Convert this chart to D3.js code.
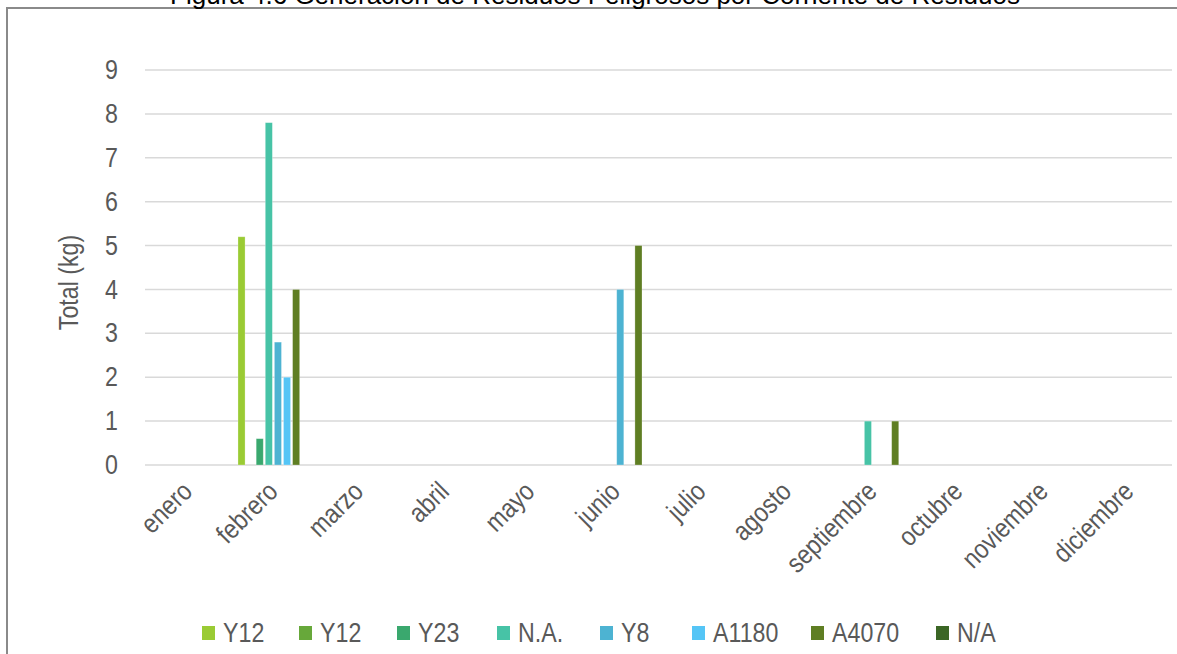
<!DOCTYPE html>
<html>
<head>
<meta charset="utf-8">
<script src="https://cdn.jsdelivr.net/npm/d3@7"></script>
<style>
  html, body { margin: 0; padding: 0; background: #fff; }
  svg { display: block; }
  text { font-family: "Liberation Sans", Arial, sans-serif; }
</style>
</head>
<body>
<svg id="chart" width="1177" height="654"></svg>
<script>
// Monthly categories
const months = ["enero", "febrero", "marzo", "abril", "mayo", "junio", "julio",
  "agosto", "septiembre", "octubre", "noviembre", "diciembre"];

// Waste stream series (kg per month)
const seriesNames = ["Y12", "Y12", "Y23", "N.A.", "Y8", "A1180", "A4070", "N/A"];
const seriesColors = ["#9acb34", "#67a83a", "#3aa86e", "#47c3a6", "#4db3d2", "#55c5f6", "#5f7e23", "#3b6625"];

const y12a   = [0, 5.2, 0, 0, 0, 0, 0, 0, 0, 0, 0, 0];
const y12b   = [0, 0, 0, 0, 0, 0, 0, 0, 0, 0, 0, 0];
const y23    = [0, 0.6, 0, 0, 0, 0, 0, 0, 0, 0, 0, 0];
const na     = [0, 7.8, 0, 0, 0, 0, 0, 0, 1, 0, 0, 0];
const y8     = [0, 2.8, 0, 0, 0, 4, 0, 0, 0, 0, 0, 0];
const a1180  = [0, 2.0, 0, 0, 0, 0, 0, 0, 0, 0, 0, 0];
const a4070  = [0, 4.0, 0, 0, 0, 5, 0, 0, 1, 0, 0, 0];
const nslash = [0, 0, 0, 0, 0, 0, 0, 0, 0, 0, 0, 0];

const yTicks = [0, 1, 2, 3, 4, 5, 6, 7, 8, 9];

const seriesValues = [y12a, y12b, y23, na, y8, a1180, a4070, nslash];

const svg = d3.select("#chart");
const textColor = "#595959";
const labelSize = 27;
const narrow = "scale(0.86,1)";   // condensed look for axis and legend text

// Outer frame of the chart area
svg.append("rect")
  .attr("x", 7).attr("y", 8)
  .attr("width", 1200).attr("height", 700)
  .attr("fill", "none")
  .attr("stroke", "#8a8a8a")
  .attr("stroke-width", 2);

// Caption (runs above the page edge)
svg.append("text")
  .attr("x", 595).attr("y", 4)
  .attr("text-anchor", "middle")
  .attr("font-size", 26)
  .attr("fill", "#000")
  .text("Figura 4.6 Generación de Residuos Peligrosos por Corriente de Residuos");

const plot = { left: 145, right: 1172, top: 70, bottom: 465 };

const x = d3.scaleBand().domain(months).range([plot.left, plot.right]).paddingInner(0).paddingOuter(0);
const y = d3.scaleLinear().domain([0, 9]).range([plot.bottom, plot.top]);

const groupPad = x.bandwidth() * 0.0865;
const xs = d3.scaleBand()
  .domain(d3.range(seriesNames.length))
  .range([groupPad, x.bandwidth() - groupPad])
  .paddingInner(2 / 9)
  .paddingOuter(0);

// Horizontal gridlines
svg.append("g")
  .selectAll("line")
  .data(yTicks)
  .join("line")
  .attr("x1", plot.left).attr("x2", plot.right)
  .attr("y1", d => y(d)).attr("y2", d => y(d))
  .attr("stroke", "#d9d9d9")
  .attr("stroke-width", 1.5);

// Y-axis labels
const yAxis = d3.axisLeft(y).tickValues(yTicks).tickSize(0).tickPadding(0);
const yg = svg.append("g")
  .attr("transform", `translate(${plot.left - 27},0)`)
  .call(yAxis);
yg.select(".domain").remove();
yg.selectAll("text")
  .attr("font-family", null)
  .attr("font-size", labelSize)
  .attr("fill", textColor)
  .attr("x", 0)
  .attr("transform", narrow);

// Y-axis title
svg.append("text")
  .attr("transform", `translate(78,${(plot.top + plot.bottom) / 2 + 15}) rotate(-90) ${narrow}`)
  .attr("text-anchor", "middle")
  .attr("font-size", labelSize)
  .attr("fill", textColor)
  .text("Total (kg)");

// Bars
const bars = svg.append("g");
seriesValues.forEach((vals, si) => {
  bars.append("g")
    .selectAll("rect")
    .data(vals.map((v, i) => ({ m: months[i], v })))
    .join("rect")
    .filter(d => d.v > 0)
    .attr("x", d => x(d.m) + xs(si))
    .attr("y", d => y(d.v))
    .attr("width", xs.bandwidth())
    .attr("height", d => y(0) - y(d.v))
    .attr("fill", seriesColors[si])
    .attr("stroke", "#ffffff")
    .attr("stroke-opacity", 0.35)
    .attr("stroke-width", 0.75);
});

// X-axis labels, rotated
const xAxis = d3.axisBottom(x).tickSize(0).tickPadding(0);
const xg = svg.append("g")
  .attr("transform", `translate(0,${plot.bottom})`)
  .call(xAxis);
xg.select(".domain").remove();
xg.selectAll("text")
  .attr("font-family", null)
  .attr("font-size", labelSize)
  .attr("fill", textColor)
  .attr("text-anchor", "end")
  .attr("dy", null)
  .attr("y", 0)
  .attr("transform", `translate(6,28) rotate(-45) ${narrow}`);

// Legend
const legendX = [202, 299, 397, 497, 600, 692, 811, 936];
const legend = svg.append("g").attr("transform", "translate(0,626)");
const items = legend.selectAll("g")
  .data(seriesNames.map((n, i) => ({ n, c: seriesColors[i], lx: legendX[i] })))
  .join("g")
  .attr("transform", d => `translate(${d.lx},0)`);
items.append("rect")
  .attr("width", 13).attr("height", 14)
  .attr("fill", d => d.c);
items.append("text")
  .attr("transform", `translate(21,16) ${narrow}`)
  .attr("font-size", labelSize)
  .attr("fill", textColor)
  .text(d => d.n);
</script>
</body>
</html>
